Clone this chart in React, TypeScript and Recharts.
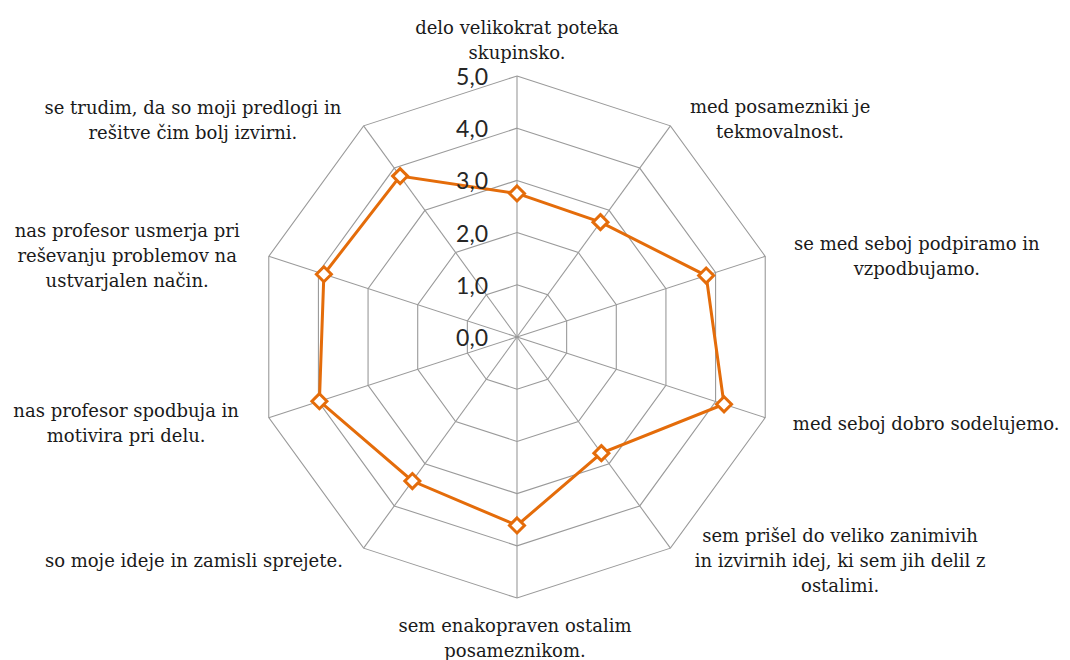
import { RadarChart, Radar, PolarGrid, PolarAngleAxis, PolarRadiusAxis } from "recharts";

const statements = [
  "delo velikokrat poteka|skupinsko.",
  "med posamezniki je|tekmovalnost.",
  "se med seboj podpiramo in|vzpodbujamo.",
  "med seboj dobro sodelujemo.",
  "sem prišel do veliko zanimivih|in izvirnih idej, ki sem jih delil z|ostalimi.",
  "sem enakopraven ostalim|posameznikom.",
  "so moje ideje in zamisli sprejete.",
  "nas profesor spodbuja in|motivira pri delu.",
  "nas profesor usmerja pri|reševanju problemov na|ustvarjalen način.",
  "se trudim, da so moji predlogi in|rešitve čim bolj izvirni.",
];

const scores = [2.75, 2.72, 3.81, 4.17, 2.75, 3.61, 3.41, 3.98, 3.89, 3.81];

const radiusTicks = [0, 1, 2, 3, 4, 5];

const data = statements.map((s, i) => ({ label: s, value: scores[i] }));

// where each label block sits relative to its axis tick
const labelPlace = [
  { dx: 0, dy: -28, anchor: "middle" },
  { dx: 105, dy: 0, anchor: "middle" },
  { dx: 144, dy: 2, anchor: "middle" },
  { dx: 20, dy: 3, anchor: "start" },
  { dx: 165, dy: 6, anchor: "middle" },
  { dx: -2, dy: 32, anchor: "middle" },
  { dx: -16, dy: 6, anchor: "end" },
  { dx: -135, dy: 3, anchor: "middle" },
  { dx: -134, dy: 2, anchor: "middle" },
  { dx: -166, dy: 1, anchor: "middle" },
];

const LINE_H = 25;

function AngleTick(props: any) {
  const { x, y, payload, index } = props;
  const p = labelPlace[index] || { dx: 0, dy: 0, anchor: "middle" };
  const lines = String(payload.value).split("|");
  const top = y + p.dy - ((lines.length - 1) * LINE_H) / 2;
  return (
    <text
      x={x + p.dx}
      y={top}
      textAnchor={p.anchor}
      fontFamily="'DejaVu Serif', serif"
      fontSize={18}
      fill="#1a1a1a"
    >
      {lines.map((l, i) => (
        <tspan key={i} x={x + p.dx} y={top + i * LINE_H} dominantBaseline="central">
          {l}
        </tspan>
      ))}
    </text>
  );
}

function RadiusTick(props: any) {
  const { x, y, payload } = props;
  return (
    <text
      x={x - 29}
      y={y}
      textAnchor="end"
      dominantBaseline="central"
      fontFamily="Lato, sans-serif"
      fontSize={23}
      fill="#262626"
    >
      {Number(payload.value).toFixed(1).replace(".", ",")}
    </text>
  );
}

function Diamond(props: any) {
  const { cx, cy } = props;
  const s = 7.5;
  return (
    <path
      d={`M${cx},${cy - s} L${cx + s},${cy} L${cx},${cy + s} L${cx - s},${cy} Z`}
      fill="#fff"
      stroke="#e46c0a"
      strokeWidth={3}
    />
  );
}

export default function App() {
  return (
    <RadarChart
      width={1054}
      height={652}
      data={data}
      cx={509}
      cy={329}
      outerRadius={261}
    >
      <PolarGrid gridType="polygon" stroke="#9a9a9a" strokeWidth={1.1} />
      <PolarAngleAxis dataKey="label" tick={<AngleTick />} tickLine={false} axisLine={false} />
      <PolarRadiusAxis
        angle={90}
        domain={[0, 5]}
        ticks={radiusTicks}
        tickCount={6}
        axisLine={false}
        tickLine={false}
        tick={<RadiusTick />}
      />
      <Radar
        dataKey="value"
        stroke="#e46c0a"
        strokeWidth={3}
        fill="none"
        fillOpacity={0}
        dot={<Diamond />}
        isAnimationActive={false}
      />
    </RadarChart>
  );
}
